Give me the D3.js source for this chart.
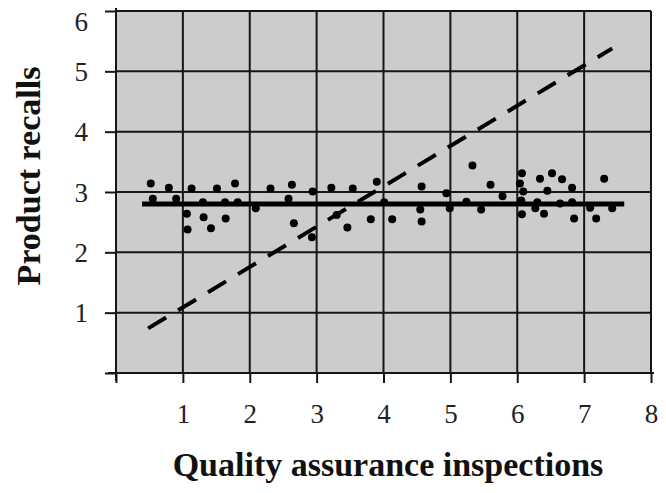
<!DOCTYPE html>
<html>
<head>
<meta charset="utf-8">
<script src="https://cdn.jsdelivr.net/npm/d3@7"></script>
<style>
  html, body { margin: 0; padding: 0; background: #ffffff; }
  svg { display: block; }
</style>
</head>
<body>
<div id="chart"></div>
<script>
// ---- data ----
const xTicks = [0, 1, 2, 3, 4, 5, 6, 7, 8];
const yTicks = [0, 1, 2, 3, 4, 5, 6];
const xTitle = "Quality assurance inspections";
const yTitle = "Product recalls";

const inspections = [0.52, 0.79, 1.13, 1.51, 1.78, 0.55, 0.90, 1.30, 1.63, 1.82,
  1.06, 1.31, 1.64, 1.07, 1.42, 2.31, 2.63, 2.94, 3.22, 2.58,
  2.09, 2.66, 3.30, 2.93, 3.46, 3.54, 3.90, 4.57, 4.94, 4.01,
  4.55, 4.99, 3.81, 4.13, 4.57, 5.33, 5.60, 5.24, 5.46, 5.78,
  6.07, 6.04, 6.09, 6.06, 6.07, 6.34, 6.52, 6.67, 6.82, 6.45,
  6.30, 6.27, 6.40, 6.64, 6.82, 6.85, 7.09, 7.18, 7.30, 7.42];
const recalls = [3.14, 3.07, 3.06, 3.06, 3.14, 2.89, 2.89, 2.83, 2.83, 2.83,
  2.64, 2.58, 2.56, 2.38, 2.40, 3.06, 3.12, 3.01, 3.07, 2.89,
  2.73, 2.48, 2.62, 2.25, 2.41, 3.06, 3.17, 3.09, 2.98, 2.83,
  2.71, 2.73, 2.55, 2.55, 2.51, 3.44, 3.12, 2.84, 2.71, 2.93,
  3.31, 3.14, 3.01, 2.86, 2.63, 3.22, 3.31, 3.21, 3.07, 3.02,
  2.83, 2.73, 2.64, 2.81, 2.83, 2.56, 2.74, 2.56, 3.22, 2.73];

// mean line (solid) and diagonal reference line (dashed)
const meanLineX = [0.39, 7.60];
const meanLineY = [2.80, 2.80];
const diagLineX = [0.48, 7.42];
const diagLineY = [0.74, 5.38];

// ---- drawing ----
const W = 666, H = 493;
const svg = d3.select("#chart").append("svg")
  .attr("width", W).attr("height", H);

const x = d3.scaleLinear().domain([0, 8]).range([116, 651]);
const y = d3.scaleLinear().domain([0, 6]).range([373, 11]);

const serif = "'Liberation Serif', 'Times New Roman', Times, serif";
const gridColor = "#161616";

// plot background
svg.append("rect")
  .attr("x", x(0)).attr("y", y(6))
  .attr("width", x(8) - x(0)).attr("height", y(0) - y(6))
  .attr("fill", "#cccccc");

// grid
const grid = svg.append("g");
grid.selectAll("line.v").data(xTicks.filter(d => d > 0)).join("line")
  .attr("x1", d => x(d)).attr("x2", d => x(d))
  .attr("y1", y(0)).attr("y2", y(6))
  .attr("stroke", gridColor).attr("stroke-width", 2);
grid.selectAll("line.h").data(yTicks.filter(d => d > 0)).join("line")
  .attr("x1", x(0)).attr("x2", x(8))
  .attr("y1", d => y(d)).attr("y2", d => y(d))
  .attr("stroke", gridColor).attr("stroke-width", 2);

// axes
const xAxis = svg.append("g")
  .attr("transform", `translate(0,${y(0)})`)
  .call(d3.axisBottom(x).tickValues(xTicks).tickSize(10).tickSizeOuter(0)
    .tickPadding(21).tickFormat(d => d === 0 ? "" : d));
const yAxis = svg.append("g")
  .attr("transform", `translate(${x(0)},0)`)
  .call(d3.axisLeft(y).tickValues(yTicks).tickSize(11).tickSizeOuter(0)
    .tickPadding(17).tickFormat(d => d === 0 ? "" : d));

[xAxis, yAxis].forEach(g => {
  g.select(".domain").remove();
  g.selectAll(".tick line").attr("stroke", gridColor).attr("stroke-width", 2);
  g.selectAll(".tick text")
    .attr("font-family", serif).attr("font-size", 27).attr("fill", "#222");
});
yAxis.selectAll(".tick text").attr("dy", d => d === 6 ? "0.72em" : "0.34em");

// axis lines (slightly extended past corners)
svg.append("line")
  .attr("x1", x(0) - 8).attr("x2", x(8) + 3)
  .attr("y1", y(0)).attr("y2", y(0))
  .attr("stroke", gridColor).attr("stroke-width", 2);
svg.append("line")
  .attr("x1", x(0)).attr("x2", x(0))
  .attr("y1", y(6) - 3).attr("y2", y(0) + 8)
  .attr("stroke", gridColor).attr("stroke-width", 2);

// mean line
svg.append("line")
  .attr("x1", x(meanLineX[0])).attr("x2", x(meanLineX[1]))
  .attr("y1", y(meanLineY[0])).attr("y2", y(meanLineY[1]))
  .attr("stroke", "#000").attr("stroke-width", 5);

// dashed diagonal
svg.append("line")
  .attr("x1", x(diagLineX[0])).attr("x2", x(diagLineX[1]))
  .attr("y1", y(diagLineY[0])).attr("y2", y(diagLineY[1]))
  .attr("stroke", "#000").attr("stroke-width", 4)
  .attr("stroke-dasharray", "21,14");

// points
svg.append("g").selectAll("circle")
  .data(inspections.map((v, i) => [v, recalls[i]]))
  .join("circle")
  .attr("cx", d => x(d[0])).attr("cy", d => y(d[1]))
  .attr("r", 4).attr("fill", "#000");

// titles
svg.append("text")
  .attr("x", 388).attr("y", 476)
  .attr("text-anchor", "middle")
  .attr("font-family", serif).attr("font-weight", "bold").attr("font-size", 34)
  .attr("fill", "#111")
  .text(xTitle);
svg.append("text")
  .attr("transform", "translate(40,176) rotate(-90)")
  .attr("text-anchor", "middle")
  .attr("font-family", serif).attr("font-weight", "bold").attr("font-size", 34)
  .attr("fill", "#111")
  .text(yTitle);
</script>
</body>
</html>
